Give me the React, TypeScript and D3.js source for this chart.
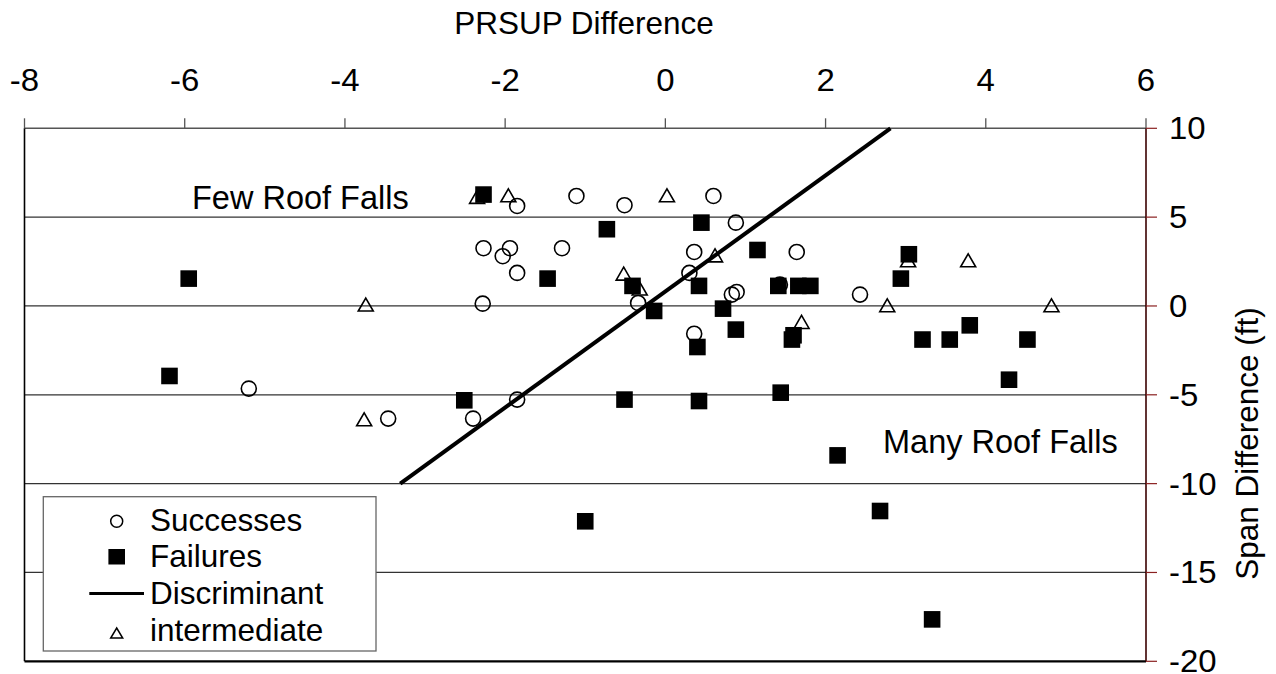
import React from "react";
import * as d3 from "d3";

const xTicks = [-8, -6, -4, -2, 0, 2, 4, 6];
const yTicks = [10, 5, 0, -5, -10, -15, -20];
const gridValues = [5, 0, -5, -10, -15];

const successesX = [-1.85, -1.11, -0.51, 0.6, 0.88, -2.27, -1.94, -1.29, -2.03, 0.36, 1.64, -1.85, -2.28, -0.34, 0.3, 0.83, 0.89, 0.36, 1.43, -1.85, -2.4, 2.43, -5.2, -3.46];
const successesY = [5.63, 6.19, 5.67, 6.19, 4.69, 3.25, 3.25, 3.25, 2.8, 3.04, 3.04, 1.86, 0.13, 0.17, 1.86, 0.64, 0.79, -1.56, 1.2, -5.27, -6.34, 0.64, -4.65, -6.34];

const failuresX = [-2.27, -0.73, 0.45, 1.15, -1.47, -0.41, -0.14, 0.42, 0.72, 0.88, 0.4, 1.41, 1.66, 1.81, 1.6, 1.58, -2.51, -0.51, 0.42, 1.44, 3.04, 2.94, 3.21, 3.55, 3.8, 4.52, 4.29, -5.95, -6.19, -1.0, 2.15, 2.68, 3.33];
const failuresY = [6.27, 4.32, 4.69, 3.15, 1.54, 1.13, -0.28, 1.13, -0.15, -1.33, -2.31, 1.13, 1.13, 1.13, -1.65, -1.89, -5.31, -5.27, -5.35, -4.88, 2.91, 1.54, -1.89, -1.89, -1.09, -1.89, -4.15, 1.54, -3.94, -12.12, -8.41, -11.54, -17.64];

const intermediateX = [-2.35, -1.96, 0.02, 0.62, -0.52, -0.32, 1.7, 3.03, 3.78, 2.77, 4.82, -3.74, -3.76];
const intermediateY = [6.14, 6.23, 6.23, 2.85, 1.82, 0.98, -0.9, 2.57, 2.57, 0.04, 0.04, 0.08, -6.38];

const discriminantX = [-3.31, 2.81];
const discriminantY = [-10, 10];

const legendLabels = ["Successes", "Failures", "Discriminant", "intermediate"];

const FONT = "'Liberation Sans', Arial, sans-serif";

export default function App() {
  const x = d3.scaleLinear().domain([-8, 6]).range([24.5, 1146]);
  const y = d3.scaleLinear().domain([-20, 10]).range([661.3, 128.3]);

  const successes = successesX.map((v, i) => [v, successesY[i]]);
  const failures = failuresX.map((v, i) => [v, failuresY[i]]);
  const intermediate = intermediateX.map((v, i) => [v, intermediateY[i]]);
  const disc = discriminantX.map((v, i) => [v, discriminantY[i]] as [number, number]);

  const line = d3
    .line<[number, number]>()
    .x((d) => x(d[0]))
    .y((d) => y(d[1]));

  const triPath = (cx: number, cy: number, w: number, h: number) =>
    `M${cx - w / 2},${cy + h / 2}L${cx + w / 2},${cy + h / 2}L${cx},${cy - h / 2}Z`;

  const [x0, x1] = x.range();
  const [yb, yt] = y.range();

  const legX = 43.3;
  const legY = 496.7;
  const legW = 332.7;
  const legH = 154.3;
  const legBase = [530.7, 567, 603.5, 640.5];
  const symX = 116.7;
  const textX = 150;

  return (
    <svg
      width={1276}
      height={674}
      style={{ position: "absolute", left: 0, top: 0, background: "#fff" }}
      fontFamily={FONT}
    >
      <rect x={0} y={0} width={1276} height={674} fill="#fff" />
      {/* gridlines */}
      {gridValues.map((g) => (
        <line key={g} x1={x0} x2={x1} y1={y(g)} y2={y(g)} stroke="#333" strokeWidth={1.2} />
      ))}
      {/* plot frame */}
      <line x1={x0} x2={x1} y1={yt} y2={yt} stroke="#555" strokeWidth={1.6} />
      <line x1={x0} x2={x0} y1={yt} y2={yb} stroke="#000" strokeWidth={1.6} />
      <line x1={x0} x2={x1} y1={yb} y2={yb} stroke="#000" strokeWidth={2.2} />
      <line x1={x1} x2={x1} y1={yt} y2={yb} stroke="#3a0000" strokeWidth={1.6} />

      {/* top axis ticks & labels */}
      {xTicks.map((t) => (
        <g key={t}>
          <line x1={x(t)} x2={x(t)} y1={yt} y2={yt - 10} stroke="#555" strokeWidth={1.3} />
          <g transform={`translate(${x(t)},91) scale(1.08,1)`}>
            <text x={0} y={0} fontSize={30.5} textAnchor="middle" fill="#000">
              {t}
            </text>
          </g>
        </g>
      ))}
      <text x={584} y={33.5} fontSize={31.5} textAnchor="middle" fill="#000">
        PRSUP Difference
      </text>

      {/* right axis ticks & labels */}
      {yTicks.map((t) => (
        <g key={t}>
          <line x1={x1} x2={x1 + 11} y1={y(t)} y2={y(t)} stroke="#8a2020" strokeWidth={1.2} />
          <g transform={`translate(1169,${y(t)}) scale(1.08,1)`}>
            <text x={0} y={0} dy="0.36em" fontSize={30.5} textAnchor="start" fill="#000">
              {t}
            </text>
          </g>
        </g>
      ))}
      <text
        transform={`translate(1258, 443.5) rotate(-90)`}
        fontSize={31.5}
        textAnchor="middle"
        fill="#000"
      >
        Span Difference (ft)
      </text>

      {/* annotations */}
      <text x={192} y={209.3} fontSize={32.5} fill="#000">
        Few Roof Falls
      </text>
      <text x={883} y={453.3} fontSize={32.5} fill="#000">
        Many Roof Falls
      </text>

      {/* intermediate */}
      {intermediate.map((d, i) => (
        <path
          key={"t" + i}
          d={triPath(x(d[0]), y(d[1]), 15, 13)}
          fill="none"
          stroke="#000"
          strokeWidth={1.6}
        />
      ))}
      {/* successes */}
      {successes.map((d, i) => (
        <circle key={"c" + i} cx={x(d[0])} cy={y(d[1])} r={7.5} fill="none" stroke="#000" strokeWidth={1.6} />
      ))}
      {/* failures */}
      {failures.map((d, i) => (
        <rect key={"s" + i} x={x(d[0]) - 8.3} y={y(d[1]) - 8.3} width={16.6} height={16.6} fill="#000" />
      ))}
      {/* discriminant */}
      <path d={line(disc) || ""} fill="none" stroke="#000" strokeWidth={4} />

      {/* legend */}
      <rect x={legX} y={legY} width={legW} height={legH} fill="#fff" stroke="#666" strokeWidth={1.3} />
      <circle cx={symX} cy={legBase[0] - 9.5} r={6} fill="none" stroke="#000" strokeWidth={1.5} />
      <rect x={symX - 8.3} y={legBase[1] - 18} width={16.6} height={15.5} fill="#000" />
      <line x1={89.3} x2={144} y1={legBase[2] - 10} y2={legBase[2] - 10} stroke="#000" strokeWidth={3} />
      <path d={triPath(symX, legBase[3] - 7.5, 12, 10)} fill="none" stroke="#000" strokeWidth={1.5} />
      {legendLabels.map((l, i) => (
        <text key={l} x={textX} y={legBase[i]} fontSize={31.5} fill="#000">
          {l}
        </text>
      ))}
    </svg>
  );
}
